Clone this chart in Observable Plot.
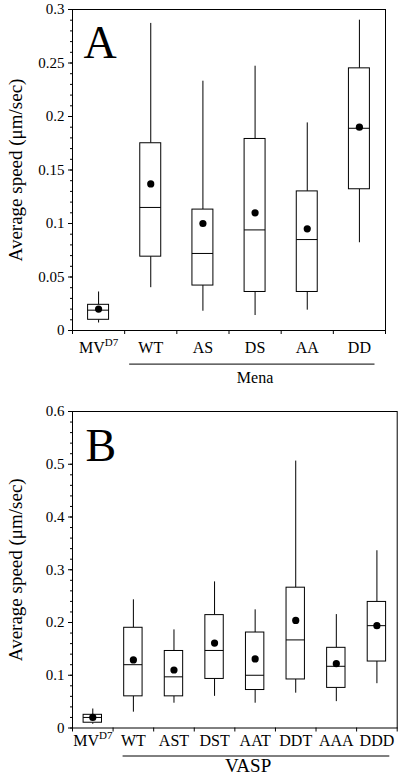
<!DOCTYPE html>
<html><head><meta charset="utf-8">
<script src="https://cdn.jsdelivr.net/npm/d3@7"></script>
<script src="https://cdn.jsdelivr.net/npm/@observablehq/plot@0.6"></script>
<style>
body{margin:0;background:#fff;}
svg{display:block;}
svg text { font-family: "Liberation Serif", "DejaVu Serif", serif !important; }
</style>
</head><body><div id="chart"></div>
<script>
// Panel A (Mena)
const catsA = ["MVD7", "WT", "AS", "DS", "AA", "DD"];
const lowA  = [0.007, 0.040, 0.018, 0.014, 0.019, 0.082];
const q1A   = [0.010, 0.069, 0.042, 0.036, 0.036, 0.132];
const medA  = [0.019, 0.115, 0.072, 0.094, 0.085, 0.189];
const q3A   = [0.024, 0.175, 0.113, 0.179, 0.130, 0.245];
const highA = [0.036, 0.287, 0.233, 0.247, 0.194, 0.290];
const meanA = [0.020, 0.137, 0.100, 0.110, 0.095, 0.190];
const yTicksA = [0, 0.05, 0.1, 0.15, 0.2, 0.25, 0.3];
const groupA = {name: "Mena", from: 1, to: 6};

// Panel B (VASP)
const catsB = ["MVD7", "WT", "AST", "DST", "AAT", "DDT", "AAA", "DDD"];
const lowB  = [0.007, 0.030, 0.047, 0.060, 0.047, 0.066, 0.050, 0.084];
const q1B   = [0.010, 0.060, 0.060, 0.093, 0.072, 0.092, 0.076, 0.126];
const medB  = [0.020, 0.120, 0.097, 0.147, 0.100, 0.167, 0.117, 0.194];
const q3B   = [0.025, 0.190, 0.146, 0.214, 0.181, 0.266, 0.152, 0.239];
const highB = [0.036, 0.243, 0.186, 0.277, 0.224, 0.506, 0.215, 0.336];
const meanB = [0.020, 0.129, 0.110, 0.161, 0.131, 0.204, 0.122, 0.194];
const yTicksB = [0, 0.1, 0.2, 0.3, 0.4, 0.5, 0.6];
const groupB = {name: "VASP", from: 1, to: 8};

const yTitle = "Average speed (\u03bcm/sec)";
const FONT = "Liberation Serif, DejaVu Serif, serif";

function panel(o) {
  const n = o.cats.length;
  const rows = o.cats.map((c, i) => ({c, i, lo: o.lo[i], q1: o.q1[i], med: o.med[i], q3: o.q3[i], hi: o.hi[i], mean: o.mean[i]}));
  const yMax = o.yTicks[o.yTicks.length - 1];
  const minor = d3.range(0, yMax + 1e-9, o.minorStep);
  const svg = Plot.plot({
    width: 400, height: o.height,
    marginTop: o.mt, marginBottom: o.mb, marginLeft: 72, marginRight: o.mr,
    style: {fontFamily: FONT, fontSize: "15px", color: "black", background: "white"},
    x: {type: "linear", domain: [0, n], axis: null},
    y: {domain: [0, yMax], axis: null, label: null},
    marks: [
      Plot.frame({stroke: "black"}),
      Plot.axisY({ticks: minor, tickSize: 2, tickFormat: () => "", label: null}),
      Plot.axisY({ticks: o.yTicks, tickSize: 4, tickPadding: 4, fontSize: 15, fontFamily: FONT, tickFormat: d => String(d), label: null}),
      Plot.axisX({ticks: d3.range(n + 1), tickSize: 4, tickFormat: () => "", label: null}),
      Plot.ruleX(rows, {x: d => d.i + 0.5, y1: "lo", y2: "q1", stroke: "black"}),
      Plot.ruleX(rows, {x: d => d.i + 0.5, y1: "q3", y2: "hi", stroke: "black"}),
      Plot.rect(rows, {x1: "i", x2: d => d.i + 1, y1: "q1", y2: "q3", fill: "white", stroke: "black", insetLeft: o.inset, insetRight: o.inset}),
      Plot.ruleY(rows, {x1: "i", x2: d => d.i + 1, y: "med", stroke: "black", insetLeft: o.inset, insetRight: o.inset}),
      Plot.dot(rows, {x: d => d.i + 0.5, y: "mean", r: 3.6, fill: "black", stroke: null}),
      Plot.text(rows, {x: d => d.i + 0.5, text: "c", frameAnchor: "bottom", dy: o.labelDy, fontSize: 16, fontFamily: FONT}),
      Plot.ruleY([o.group], {y: () => 0, x1: g => g.from, x2: g => g.to, dy: o.lineDy, stroke: "black", insetLeft: o.lineInsetL, insetRight: o.lineInsetR}),
      Plot.text([o.group], {x: g => (g.from + g.to) / 2, text: "name", frameAnchor: "bottom", dy: o.groupDy, dx: o.groupDx, fontSize: o.groupSize, fontFamily: FONT}),
      Plot.text([o.letter], {text: d => d, frameAnchor: "top-left", textAnchor: "start", lineAnchor: "top", dx: o.letterDx, dy: o.letterDy, fontSize: 46, fontFamily: FONT}),
      Plot.text([yTitle], {text: d => d, frameAnchor: "left", textAnchor: "middle", lineAnchor: "middle", rotate: -90, dx: -57, fontSize: 19, fontFamily: FONT})
    ]
  });
  svg.querySelectorAll("text").forEach(t => {
    if (t.textContent === "MVD7") {
      t.textContent = "";
      const ns = "http://www.w3.org/2000/svg";
      const a = document.createElementNS(ns, "tspan"); a.textContent = "MV";
      const b = document.createElementNS(ns, "tspan"); b.textContent = "D7";
      b.setAttribute("font-size", "11"); b.setAttribute("dy", "-0.55em");
      t.appendChild(a); t.appendChild(b);
    }
  });
  return svg;
}

const chart = document.getElementById("chart");
chart.appendChild(panel({
  cats: catsA, lo: lowA, q1: q1A, med: medA, q3: q3A, hi: highA, mean: meanA,
  yTicks: yTicksA, minorStep: 0.01, group: groupA, letter: "A",
  height: 392, mt: 9, mb: 62, mr: 15, inset: 15.6,
  labelDy: 22, lineDy: 33.6, lineInsetL: 5, lineInsetR: 10.5, groupDy: 52, groupDx: 0, groupSize: 16,
  letterDx: 11, letterDy: 16
}));
chart.appendChild(panel({
  cats: catsB, lo: lowB, q1: q1B, med: medB, q3: q3B, hi: highB, mean: meanB,
  yTicks: yTicksB, minorStep: 0.02, group: groupB, letter: "B",
  height: 389, mt: 19, mb: 53.5, mr: 3.3, inset: 11.1,
  labelDy: 17.5, lineDy: 28, lineInsetL: 10, lineInsetR: 7.4, groupDy: 44, groupDx: -7, groupSize: 19,
  letterDx: 13, letterDy: 17
}));
</script>
</body></html>
